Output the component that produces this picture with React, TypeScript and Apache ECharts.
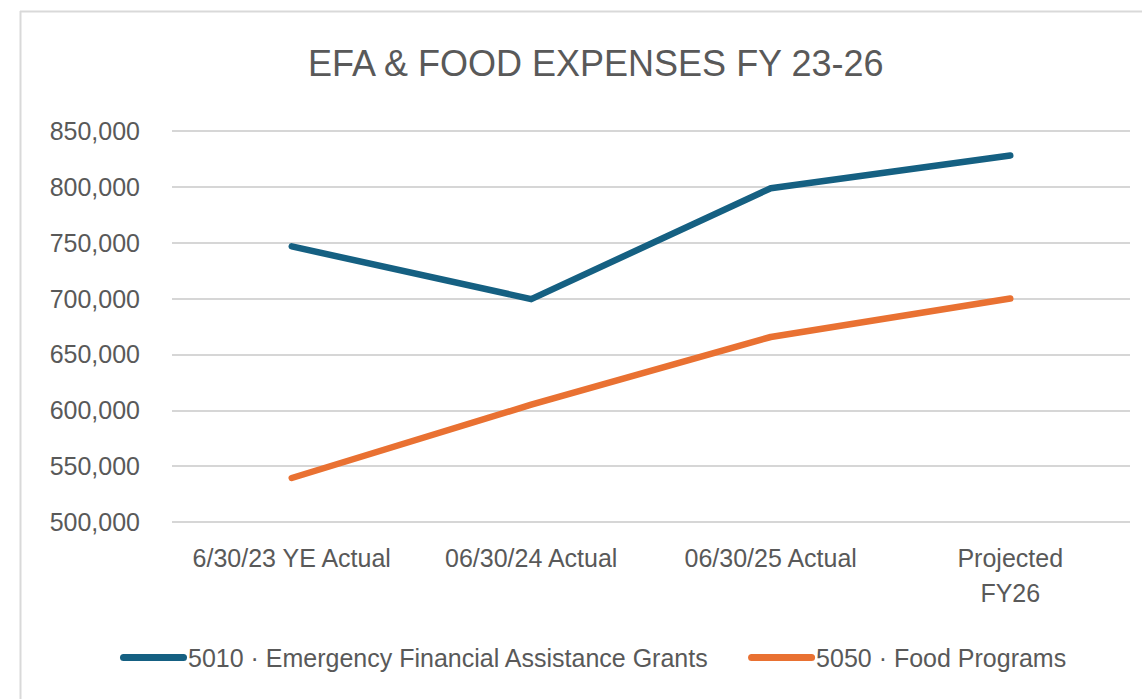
import React, { useEffect, useRef } from "react";
import * as echarts from "echarts";

const categories = ["6/30/23 YE Actual", "06/30/24 Actual", "06/30/25 Actual", "Projected\nFY26"];
const efaGrants = [746700, 699500, 798800, 828000];
const foodPrograms = [539400, 605000, 665600, 700000];
const seriesNames = ["5010 · Emergency Financial Assistance Grants", "5050 · Food Programs"];
const titleText = "EFA & FOOD EXPENSES FY 23-26";

const FONT = "'Liberation Sans', Arial, sans-serif";
const TEXT = "#595959";
const pill = "path://M3.5,0 H63.5 A3.5,3.5 0 0 1 63.5,7 H3.5 A3.5,3.5 0 0 1 3.5,0 Z";

export default function App() {
  const ref = useRef<HTMLDivElement>(null);
  useEffect(() => {
    if (!ref.current) return;
    const chart = echarts.init(ref.current, undefined, { renderer: "svg" });
    chart.setOption({
      animation: false,
      backgroundColor: "#ffffff",
      title: {
        text: titleText,
        left: 303,
        top: 40,
        textStyle: { fontFamily: FONT, fontSize: 36, fontWeight: "normal", color: TEXT },
      },
      graphic: [
        { type: "line", shape: { x1: 20, y1: 11.5, x2: 1142, y2: 11.5 }, style: { stroke: "#d9d9d9", lineWidth: 2 } },
        { type: "line", shape: { x1: 20.5, y1: 11, x2: 20.5, y2: 699 }, style: { stroke: "#d9d9d9", lineWidth: 2 } },
      ],
      grid: { left: 172, right: 12, top: 131, bottom: 177, containLabel: false },
      legend: {
        left: 120,
        top: 645,
        padding: 0,
        itemWidth: 67,
        itemHeight: 7,
        itemGap: 39,
        icon: pill,
        textStyle: { fontFamily: FONT, fontSize: 25, color: TEXT, padding: [0, 0, 0, -4] },
        data: seriesNames,
      },
      xAxis: {
        type: "category",
        data: categories,
        boundaryGap: true,
        axisLine: { show: false },
        axisTick: { show: false },
        axisLabel: {
          fontFamily: FONT,
          fontSize: 25,
          color: TEXT,
          margin: 18,
          lineHeight: 35,
          interval: 0,
        },
      },
      yAxis: {
        type: "value",
        min: 500000,
        max: 850000,
        interval: 50000,
        axisLine: { show: false },
        axisTick: { show: false },
        splitLine: { lineStyle: { color: "#d6d6d6", width: 2 } },
        axisLabel: {
          fontFamily: FONT,
          fontSize: 25,
          color: TEXT,
          margin: 32,
          formatter: (v: number) => v.toLocaleString("en-US"),
        },
      },
      series: [
        {
          name: seriesNames[0],
          type: "line",
          data: efaGrants,
          symbol: "none",
          color: "#156082",
          lineStyle: { width: 6.5, color: "#156082", cap: "round", join: "round" },
        },
        {
          name: seriesNames[1],
          type: "line",
          data: foodPrograms,
          symbol: "none",
          color: "#E97132",
          lineStyle: { width: 6.5, color: "#E97132", cap: "round", join: "round" },
        },
      ],
    });
    return () => chart.dispose();
  }, []);
  return (
    <div
      ref={ref}
      style={{ position: "absolute", left: 0, top: 0, width: 1142, height: 699 }}
    />
  );
}
